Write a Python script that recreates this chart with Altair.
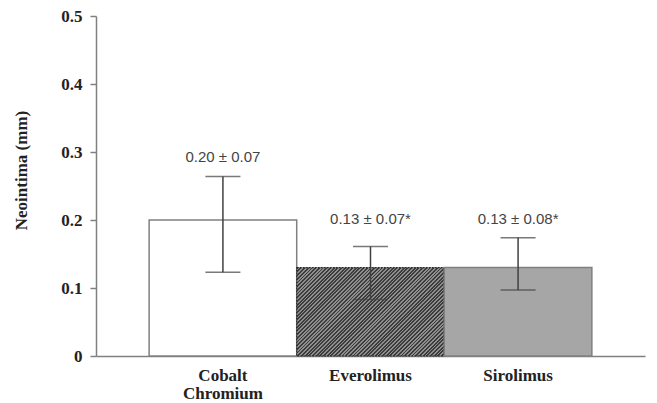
import altair as alt
import pandas as pd

# ---- data ----
categories = ["Cobalt\nChromium", "Everolimus", "Sirolimus"]
means = [0.20, 0.13, 0.13]
err_low = [0.123, 0.083, 0.097]
err_high = [0.264, 0.161, 0.174]
annotations = ["0.20 \u00b1 0.07", "0.13 \u00b1 0.07*", "0.13 \u00b1 0.08*"]
annotation_y = [0.293, 0.201, 0.201]
y_ticks = [0, 0.1, 0.2, 0.3, 0.4, 0.5]

df = pd.DataFrame({
    "cat": categories,
    "mean": means,
    "lo": err_low,
    "hi": err_high,
    "ann": annotations,
    "ann_y": annotation_y,
})

W, H = 549, 340
SERIF = "Liberation Serif"
SANS = "Liberation Sans"

# diagonal hatch as a striped linear gradient (bar approx 148 x 88 px)
bw, bh = 147.6, 88.4
k = (bw + bh) / (bw * (1 + (bh / bw) ** 2))
N = 64
dark, light = "#3c3c3c", "#8e8e8e"
stops = []
for i in range(N):
    a = i / N
    b = (i + 0.5) / N
    c = (i + 1) / N
    stops += [
        alt.GradientStop(offset=a, color=dark),
        alt.GradientStop(offset=b, color=dark),
        alt.GradientStop(offset=b, color=light),
        alt.GradientStop(offset=c, color=light),
    ]
hatch = alt.LinearGradient(gradient="linear", stops=stops, x1=0, y1=0, x2=k, y2=k * bh / bw)

x_enc = alt.X(
    "cat:N",
    sort=categories,
    scale=alt.Scale(paddingInner=0, paddingOuter=0.36),
    axis=alt.Axis(
        title=None,
        labelAngle=0,
        ticks=False,
        labelExpr="split(datum.label, '\\n')",
        labelFont=SERIF,
        labelFontWeight="bold",
        labelFontSize=17,
        labelColor="#222222",
        labelPadding=11,
        labelLineHeight=18,
        domainColor="#808080",
        domainWidth=1.5,
    ),
)
y_scale = alt.Scale(domain=[0, 0.5])
y_axis = alt.Axis(
    values=y_ticks,
    title="Neointima (mm)",
    titleFont=SERIF,
    titleFontWeight="bold",
    titleFontSize=17,
    titleColor="#222222",
    titleX=-75,
    titleY=154,
    titleAngle=-90,
    titleAlign="center",
    titleBaseline="middle",
    labelExpr="datum.value == 0 ? '0' : format(datum.value, '.1f')",
    labelFont=SERIF,
    labelFontWeight="bold",
    labelFontSize=17,
    labelColor="#222222",
    labelPadding=8,
    tickSize=6,
    tickWidth=1.5,
    tickColor="#808080",
    domainColor="#808080",
    domainWidth=1.5,
    grid=False,
)

base = alt.Chart(df)

def bar(cat, **kw):
    return base.transform_filter(alt.datum.cat == cat).mark_bar(**kw).encode(
        x=x_enc, y=alt.Y("mean:Q", scale=y_scale, axis=y_axis)
    )

bars = (
    bar(categories[0], fill="#ffffff", stroke="#808080", strokeWidth=1.5)
    + bar(categories[1], fill=hatch, stroke="#2a2a2a", strokeWidth=1.2, strokeDash=[2, 1])
    + bar(categories[2], fill="#a6a6a6", stroke="#808080", strokeWidth=1.5)
)

rules = base.mark_rule(color="#404040", strokeWidth=1.5).encode(
    x=alt.X("cat:N", sort=categories), y="lo:Q", y2="hi:Q"
)
cap_lo = base.mark_tick(color="#404040", thickness=1.5, size=35, orient="horizontal").encode(
    x=alt.X("cat:N", sort=categories), y="lo:Q"
)
cap_hi = base.mark_tick(color="#404040", thickness=1.5, size=35, orient="horizontal").encode(
    x=alt.X("cat:N", sort=categories), y="hi:Q"
)
texts = base.mark_text(font=SANS, fontSize=15, color="#444444", baseline="middle").encode(
    x=alt.X("cat:N", sort=categories), y="ann_y:Q", text="ann:N"
)

chart = (
    alt.layer(bars, rules, cap_lo, cap_hi, texts)
    .properties(
        width=W,
        height=H,
        autosize=alt.AutoSizeParams(type="none"),
        padding={"left": 88, "top": 8, "right": 4, "bottom": 47},
        background="white",
    )
    .configure_view(stroke=None)
)

chart.save("out.html", embed_options={"renderer": "svg", "actions": False})
